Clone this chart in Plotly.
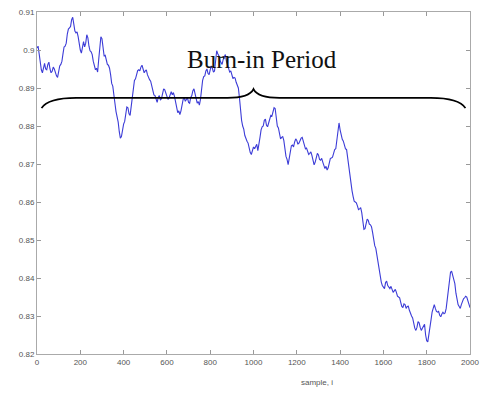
import plotly.graph_objects as go

# sample indices and values (every 10th sample)
samples = list(range(0, 2001, 10))
values = [
    .9005, .8990, .8948, .8955, .8950, .8962, .8950, .8944, .8950, .8932,
    .8945, .8962, .8990, .9010, .9042, .9058, .9080, .9068, .9045, .9035,
    .9000, .9012, .9008, .9040, .9010, .8995, .8970, .8948, .8942, .9015,
    .9030, .8985, .8972, .8960, .8935, .8905, .8860, .8825, .8785, .8772,
    .8805, .8835, .8848, .8828, .8885, .8920, .8938, .8948, .8955, .8950,
    .8945, .8935, .8922, .8905, .8882, .8870, .8875, .8868, .8885, .8895,
    .8880, .8874, .8890, .8888, .8860, .8835, .8830, .8858, .8874, .8870,
    .8862, .8875, .8893, .8885, .8860, .8855, .8900, .8930, .8945, .8938,
    .8948, .8952, .8945, .8998, .8985, .8968, .8975, .8988, .8960, .8942,
    .8935, .8928, .8915, .8900, .8840, .8800, .8775, .8760, .8740, .8725,
    .8745, .8748, .8735, .8770, .8798, .8815, .8802, .8810, .8828, .8838,
    .8846, .8800, .8778, .8770, .8762, .8720, .8698, .8735, .8750, .8758,
    .8762, .8755, .8768, .8760, .8740, .8735, .8728, .8722, .8698, .8720,
    .8724, .8710, .8705, .8688, .8684, .8705, .8716, .8728, .8740, .8800,
    .8790, .8765, .8748, .8738, .8690, .8640, .8615, .8600, .8590, .8582,
    .8572, .8528, .8545, .8552, .8540, .8520, .8485, .8460, .8415, .8390,
    .8375, .8388, .8380, .8372, .8370, .8366, .8362, .8350, .8336, .8322,
    .8330, .8325, .8315, .8300, .8280, .8262, .8285, .8270, .8268, .8278,
    .8235, .8248, .8290, .8325, .8320, .8310, .8302, .8305, .8306, .8320,
    .8380, .8415, .8405, .8385, .8340, .8325, .8330, .8345, .8352, .8340,
    .8322,
]

# in-between samples (5, 15, ... 1995), estimated noise of the trace
mid_samples = list(range(5, 2000, 10))
mid_values = [
    .9010, .8962, .8940, .8965, .8948, .8968, .8940, .8955, .8938, .8928,
    .8958, .8970, .9008, .9018, .9055, .9062, .9086, .9050, .9048, .9010,
    .8992, .9022, .9018, .9032, .8998, .8988, .8955, .8952, .8975, .9035,
    .9000, .8986, .8962, .8952, .8912, .8888, .8838, .8810, .8768, .8790,
    .8812, .8850, .8832, .8852, .8910, .8924, .8946, .8945, .8960, .8940,
    .8948, .8925, .8918, .8890, .8880, .8862, .8880, .8872, .8898, .8885,
    .8870, .8886, .8882, .8878, .8842, .8840, .8840, .8870, .8865, .8874,
    .8860, .8880, .8898, .8870, .8864, .8870, .8920, .8932, .8950, .8935,
    .8958, .8942, .8965, .8990, .8972, .8962, .8984, .8970, .8955, .8945,
    .8925, .8926, .8905, .8875, .8815, .8792, .8765, .8755, .8730, .8738,
    .8740, .8752, .8748, .8790, .8800, .8818, .8798, .8822, .8826, .8848,
    .8815, .8795, .8766, .8772, .8735, .8712, .8715, .8748, .8745, .8766,
    .8752, .8765, .8770, .8745, .8742, .8725, .8732, .8708, .8705, .8728,
    .8712, .8715, .8692, .8694, .8690, .8715, .8718, .8738, .8765, .8808,
    .8772, .8760, .8740, .8715, .8660, .8630, .8602, .8598, .8580, .8585,
    .8555, .8530, .8555, .8542, .8535, .8495, .8478, .8432, .8405, .8380,
    .8372, .8392, .8375, .8378, .8362, .8370, .8352, .8348, .8325, .8332,
    .8320, .8326, .8305, .8295, .8268, .8270, .8282, .8262, .8275, .8250,
    .8232, .8272, .8310, .8330, .8312, .8312, .8298, .8310, .8308, .8345,
    .8405, .8418, .8392, .8360, .8330, .8320, .8340, .8348, .8350, .8328,
]

x_ticks = [0, 200, 400, 600, 800, 1000, 1200, 1400, 1600, 1800, 2000]
y_ticks = [0.82, 0.83, 0.84, 0.85, 0.86, 0.87, 0.88, 0.89, 0.90, 0.91]
y_ticktext = ["0.82", "0.83", "0.84", "0.85", "0.86", "0.87", "0.88", "0.89", "0.9", "0.91"]

# brace annotation (data units)
brace_left, brace_mid, brace_right = 21, 1000, 1979
brace_level, brace_end_y, brace_peak_y = 0.8874, 0.8847, 0.8897

pts = sorted(zip(samples + mid_samples, values + mid_values))
xs = [p[0] for p in pts]
ys = [p[1] for p in pts]

fig = go.Figure()
fig.add_trace(go.Scatter(
    x=xs, y=ys, mode="lines",
    line=dict(color="rgb(60,60,215)", width=1.1),
    showlegend=False, hoverinfo="skip",
))

path = (
    f"M {brace_left},{brace_end_y} "
    f"Q {brace_left + 30},{brace_level} {brace_left + 160},{brace_level} "
    f"L {brace_mid - 120},{brace_level} "
    f"Q {brace_mid - 20},{brace_level} {brace_mid},{brace_peak_y} "
    f"Q {brace_mid + 20},{brace_level} {brace_mid + 120},{brace_level} "
    f"L {brace_right - 160},{brace_level} "
    f"Q {brace_right - 30},{brace_level} {brace_right},{brace_end_y}"
)
fig.add_shape(type="path", path=path, xref="x", yref="y",
              line=dict(color="black", width=1.8))

fig.add_annotation(x=1040, y=0.8976, xref="x", yref="y", text="Burn-in Period",
                   showarrow=False,
                   font=dict(family="Liberation Serif, Times New Roman, serif",
                             size=25, color="#111"))

fig.add_annotation(x=313 / 484, y=-0.085, yshift=-6, xref="paper", yref="paper",
                   text="sample, i", showarrow=False,
                   font=dict(family="Liberation Sans, Arial", size=8, color="#555"))

axis_common = dict(showline=True, linecolor="#aaa", linewidth=1, mirror="ticks",
                   ticks="inside", ticklen=4, tickcolor="#999", showgrid=False,
                   zeroline=False, automargin=False,
                   tickfont=dict(family="Liberation Sans, Arial", size=8, color="#555"))

fig.update_xaxes(range=[0, 2000], tickvals=x_ticks, **axis_common)
fig.update_yaxes(range=[0.82, 0.91], tickvals=y_ticks, ticktext=y_ticktext, **axis_common)

fig.update_layout(
    width=484, height=394,
    margin=dict(l=37, r=14, t=12, b=40),
    paper_bgcolor="white", plot_bgcolor="white",
)

fig.write_html("out.html")
